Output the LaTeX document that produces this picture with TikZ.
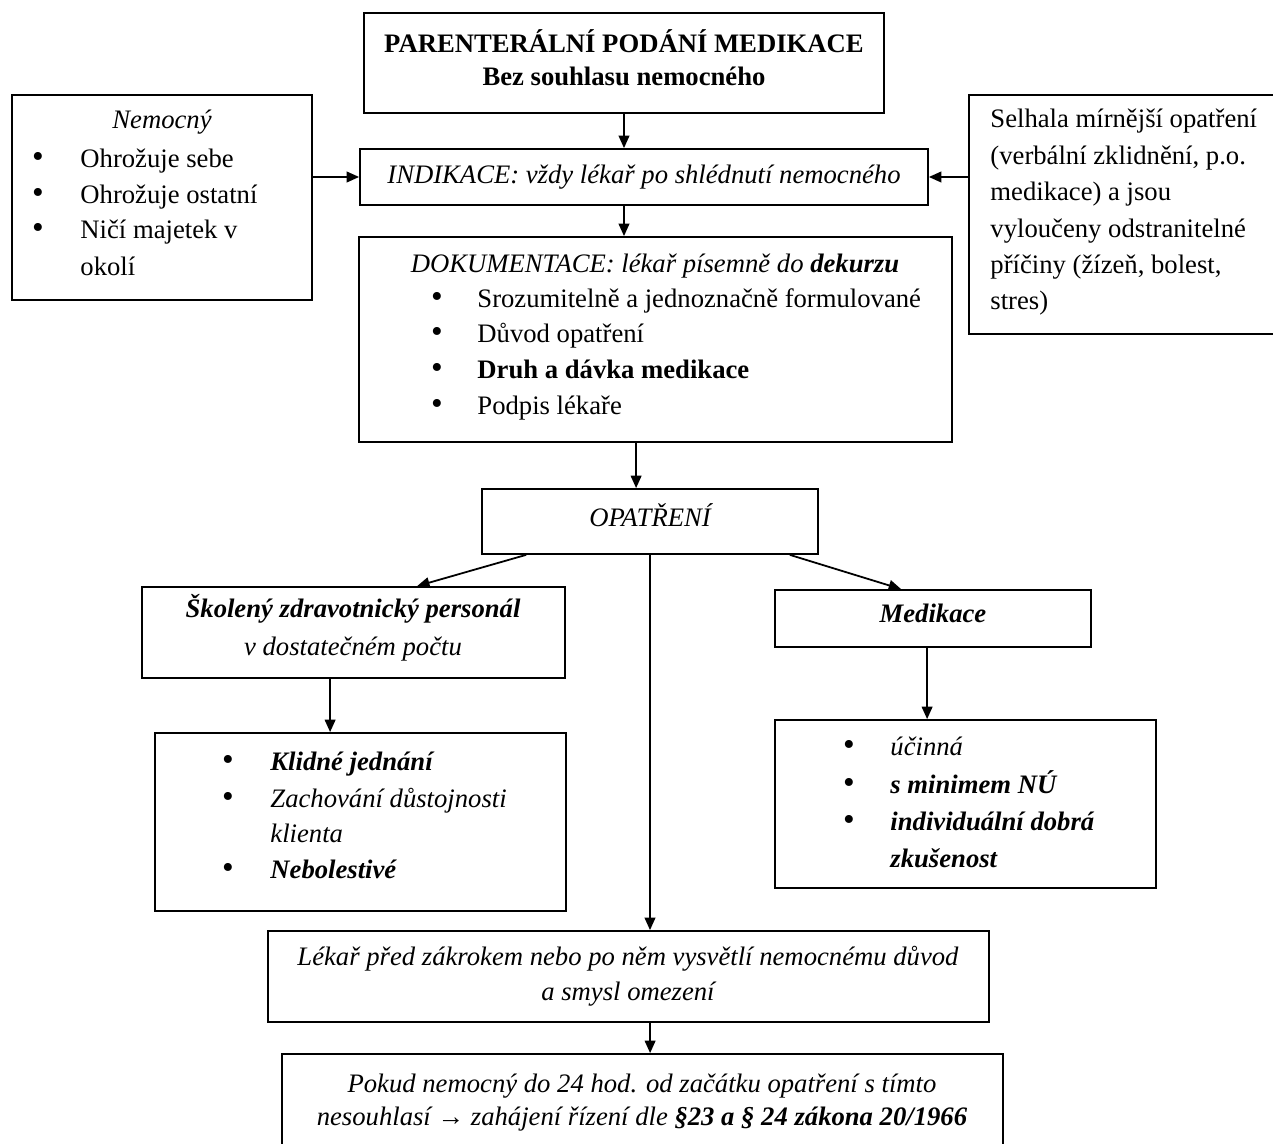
\documentclass[tikz,border=0pt]{standalone}
\usepackage{fontspec}
\setmainfont{Liberation Serif}
\usetikzlibrary{arrows.meta,fit,calc}
\begin{document}
\begin{tikzpicture}[x=0.45pt,y=-0.45pt,
  font=\fontsize{12pt}{16.2pt}\selectfont,
  box/.style={draw, line width=0.8pt, inner sep=0pt},
  lt/.style={anchor=mid west, inner sep=0pt},
  ct/.style={anchor=mid, inner sep=0pt},
  bul/.style={anchor=mid, inner sep=0pt, font=\fontsize{15pt}{15pt}\selectfont},
  arr/.style={line width=0.8pt, -{Triangle[length=5.6pt,width=4.8pt]}},
  ln/.style={line width=0.8pt}]
\useasboundingbox (0,0) rectangle (1273,1144);
\clip (0,0) rectangle (1273,1144);

% boxes
\node[box, fit={(364,13) (884,113)}] (T) {};
\node[box, fit={(360,149) (928,205)}] (I) {};
\node[box, fit={(12,95) (312,300)}] (N) {};
\node[box, fit={(969,95) (1300,334)}] (R) {};
\node[box, fit={(359,237) (952,442)}] (D) {};
\node[box, fit={(482,489) (818,554)}] (O) {};
\node[box, fit={(142,587) (565,678)}] (S) {};
\node[box, fit={(775,590) (1091,647)}] (M) {};
\node[box, fit={(155,733) (566,911)}] (K) {};
\node[box, fit={(775,720) (1156,888)}] (U) {};
\node[box, fit={(268,931) (989,1022)}] (L) {};
\node[box, fit={(282,1054) (1003,1170)}] (P) {};

% texts: top
\node[ct] (t1) at (624,47) {\bfseries PARENTERÁLNÍ PODÁNÍ MEDIKACE};
\node[ct] (t2) at (624,80) {\bfseries Bez souhlasu nemocného};
% indikace
\node[ct] (i1) at (644,178) {\itshape INDIKACE: vždy lékař po shlédnutí nemocného};
% nemocny
\node[ct] (n0) at (162,123) {\itshape Nemocný};
\node[bul] (nb1) at (38,162) {•};
\node[lt] (n1) at (80,162) {Ohrožuje sebe};
\node[bul] (nb2) at (38,198) {•};
\node[lt] (n2) at (80,198) {Ohrožuje ostatní};
\node[bul] (nb3) at (38,233) {•};
\node[lt] (n3) at (80,233) {Ničí majetek v};
\node[lt] (n4) at (80,270) {okolí};
% right box
\node[lt] (r1) at (990,122) {Selhala mírnější opatření};
\node[lt] (r2) at (990,159) {(verbální zklidnění, p.o.};
\node[lt] (r3) at (990,195) {medikace) a jsou};
\node[lt] (r4) at (990,232) {vyloučeny odstranitelné};
\node[lt] (r5) at (990,268) {příčiny (žízeň, bolest,};
\node[lt] (r6) at (990,304) {stres)};
% dokumentace
\node[ct] (d0) at (655,267) {\itshape DOKUMENTACE: lékař písemně do \textbf{dekurzu}};
\node[bul] (db1) at (437,302) {•};
\node[lt] (d1) at (477,302) {Srozumitelně a jednoznačně formulované};
\node[bul] (db2) at (437,337) {•};
\node[lt] (d2) at (477,337) {Důvod opatření};
\node[bul] (db3) at (437,373) {•};
\node[lt] (d3) at (477,373) {\bfseries Druh a dávka medikace};
\node[bul] (db4) at (437,409) {•};
\node[lt] (d4) at (477,409) {Podpis lékaře};
% opatreni
\node[ct] (o1) at (650,521) {\itshape OPATŘENÍ};
% skoleny
\node[ct] (s1) at (353,612) {\bfseries\itshape Školený zdravotnický personál};
\node[ct] (s2) at (353,650) {\itshape v dostatečném počtu};
% medikace
\node[ct] (m1) at (933,617) {\bfseries\itshape Medikace};
% klidne
\node[bul] (kb1) at (228,765) {•};
\node[lt] (k1) at (270,765) {\bfseries\itshape Klidné jednání};
\node[bul] (kb2) at (228,802) {•};
\node[lt] (k2) at (270,802) {\itshape Zachování důstojnosti};
\node[lt] (k3) at (270,837) {\itshape klienta};
\node[bul] (kb3) at (228,873) {•};
\node[lt] (k4) at (270,873) {\bfseries\itshape Nebolestivé};
% ucinna
\node[bul] (ub1) at (849,750) {•};
\node[lt] (u1) at (890,750) {\itshape účinná};
\node[bul] (ub2) at (849,788) {•};
\node[lt] (u2) at (890,788) {\bfseries\itshape s minimem NÚ};
\node[bul] (ub3) at (849,825) {•};
\node[lt] (u3) at (890,825) {\bfseries\itshape individuální dobrá};
\node[lt] (u4) at (890,862) {\bfseries\itshape zkušenost};
% lekar
\node[ct] (l1) at (628,960) {\itshape Lékař před zákrokem nebo po něm vysvětlí nemocnému důvod};
\node[ct] (l2) at (628,995) {\itshape a smysl omezení};
% pokud
\node[ct] (p1) at (642,1087) {\itshape Pokud nemocný do 24 hod. od začátku opatření s tímto};
\node[ct] (p2) at (642,1120) {\itshape nesouhlasí {\upshape\bfseries →} zahájení řízení dle \textbf{§23 a § 24 zákona 20/1966}};

% connectors
\draw[arr] (T.south) -- (T.south |- I.north);
\draw[arr] (T.south |- I.south) -- (T.south |- D.north);
\draw[arr] (N.east |- I.west) -- (I.west);
\draw[arr] (R.west |- I.east) -- (I.east);
\draw[arr] ($(D.south west)+(278,0)$) -- ($(O.north west)+(155,0)$);
\draw[arr] ($(O.south west)+(45,0)$) -- ($(S.north west)+(276,0)$);
\draw[arr] (O.south) -- (O.south |- L.north);
\draw[arr] ($(O.south east)+(-29,0)$) -- ($(M.north west)+(127,0)$);
\draw[arr] ($(S.south west)+(189,0)$) -- ($(K.north west)+(176,0)$);
\draw[arr] ($(M.south west)+(153,0)$) -- ($(U.north west)+(153,0)$);
\draw[arr] ($(L.south west)+(383,0)$) -- ($(P.north west)+(369,0)$);
\end{tikzpicture}
\end{document}
